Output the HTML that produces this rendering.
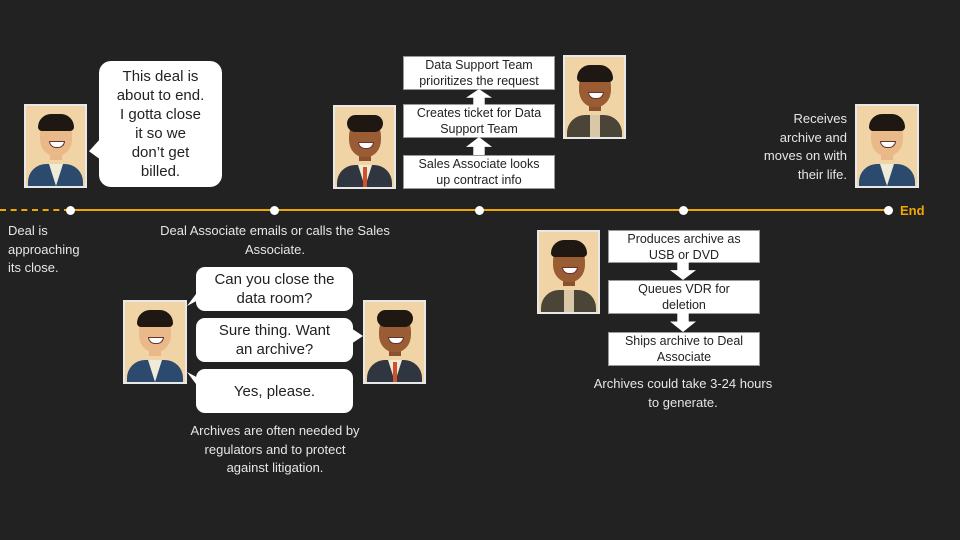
<!DOCTYPE html>
<html><head><meta charset="utf-8"><style>
body{margin:0;background:#222;}
#c{position:relative;width:960px;height:540px;background:#222;overflow:hidden;font-family:"Liberation Sans",sans-serif;color:#eee;}
.a{position:absolute;}
.p{position:absolute;width:60px;height:80px;border:2px solid #e8e8e8;background:#f1d4a6;overflow:hidden;box-sizing:border-box;}
.p .body{position:absolute;left:2px;right:2px;bottom:-14px;height:36px;border-radius:18px 18px 0 0;background:#2b4a6e;}
.p .shirt{position:absolute;left:23px;width:14px;bottom:0;height:22px;background:#f0ead8;clip-path:polygon(0 0,100% 0,50% 100%);}
.p .neck{position:absolute;left:24px;width:12px;top:42px;height:12px;background:#e8b888;}
.p .head{position:absolute;left:14px;top:12px;width:32px;height:38px;border-radius:45%;background:#eab98a;}
.p .hair{position:absolute;left:12px;top:8px;width:36px;height:17px;border-radius:17px 17px 5px 5px;background:#1e1712;}
.p .smile{position:absolute;left:23px;top:35px;width:14px;height:5px;border-radius:0 0 8px 8px;background:#fff;border:1px solid #633;}
.dark .head{background:#9a5c33;}.dark .neck{background:#8a5030;}
.dark .body{background:#2f3640;}
.tie{position:absolute;left:28px;width:4px;bottom:0;height:20px;background:#d0522a;}
.vest .body{background:#4a4536;}.vest .shirt{background:#d8c8a8;clip-path:none;left:25px;width:10px;}
.box{position:absolute;background:#fff;color:#222;border:1px solid #999;box-sizing:border-box;font-size:12.5px;text-align:center;line-height:16px;display:flex;align-items:center;justify-content:center;}
.bub{position:absolute;background:#fff;color:#222;border-radius:12px;font-size:15px;text-align:center;line-height:19px;display:flex;align-items:center;justify-content:center;}
.t{position:absolute;font-size:13px;line-height:18.5px;color:#e6e6e6;}
.dot{position:absolute;width:9px;height:9px;border-radius:50%;background:#fff;top:206px;}
</style></head><body><div id="c">
<div class="a" style="left:0;top:209px;width:70px;height:0;border-top:2px dashed #f0a800;"></div>
<div class="a" style="left:70px;top:209px;width:818px;height:2px;background:#f0a800;"></div>
<div class="dot" style="left:66px"></div><div class="dot" style="left:270px"></div><div class="dot" style="left:475px"></div><div class="dot" style="left:679px"></div><div class="dot" style="left:884px"></div>
<div class="a" style="left:900px;top:203px;font-size:13px;font-weight:bold;color:#f0a800;">End</div>

<div class="p" style="left:24px;top:104px;width:63px;height:84px;"><div class="neck"></div><div class="body"></div><div class="shirt"></div><div class="head"></div><div class="hair"></div><div class="smile"></div></div>
<div class="bub" style="left:99px;top:61px;width:123px;height:126px;">This deal is<br>about to end.<br>I gotta close<br>it so we<br>don’t get<br>billed.</div>
<div class="a" style="left:89px;top:138px;width:12px;height:22px;background:#fff;clip-path:polygon(100% 0,0 60%,100% 100%);"></div>
<div class="t" style="left:8px;top:222px;">Deal is<br>approaching<br>its close.</div>
<div class="t" style="left:140px;top:222px;width:270px;text-align:center;">Deal Associate emails or calls the Sales<br>Associate.</div>

<div class="p dark" style="left:333px;top:105px;width:63px;height:84px;"><div class="neck"></div><div class="body"></div><div class="shirt"></div><div class="tie"></div><div class="head"></div><div class="hair" style="border-radius:17px"></div><div class="smile"></div></div>
<div class="box" style="left:403px;top:56px;width:152px;height:34px;">Data Support Team<br>prioritizes the request</div>
<div class="box" style="left:403px;top:104px;width:152px;height:34px;">Creates ticket for Data<br>Support Team</div>
<div class="box" style="left:403px;top:155px;width:152px;height:34px;">Sales Associate looks<br>up contract info</div>
<div class="a" style="left:466px;top:89px;width:26px;height:16px;background:#fff;clip-path:polygon(50% 0,100% 55%,72% 55%,72% 100%,28% 100%,28% 55%,0 55%);"></div>
<div class="a" style="left:466px;top:137px;width:26px;height:18px;background:#fff;clip-path:polygon(50% 0,100% 55%,72% 55%,72% 100%,28% 100%,28% 55%,0 55%);"></div>
<div class="p dark vest" style="left:563px;top:55px;width:63px;height:84px;"><div class="neck"></div><div class="body"></div><div class="shirt"></div><div class="head"></div><div class="hair"></div><div class="smile"></div></div>

<div class="t" style="left:760px;top:110px;width:87px;text-align:right;">Receives<br>archive and<br>moves on with<br>their life.</div>
<div class="p" style="left:855px;top:104px;width:64px;height:84px;"><div class="neck"></div><div class="body"></div><div class="shirt"></div><div class="head"></div><div class="hair"></div><div class="smile"></div></div>

<div class="p dark vest" style="left:537px;top:230px;width:63px;height:84px;"><div class="neck"></div><div class="body"></div><div class="shirt"></div><div class="head"></div><div class="hair"></div><div class="smile"></div></div>
<div class="box" style="left:608px;top:230px;width:152px;height:33px;">Produces archive as<br>USB or DVD</div>
<div class="box" style="left:608px;top:280px;width:152px;height:34px;">Queues VDR for<br>deletion</div>
<div class="box" style="left:608px;top:332px;width:152px;height:34px;">Ships archive to Deal<br>Associate</div>
<div class="a" style="left:670px;top:262px;width:26px;height:18px;background:#fff;clip-path:polygon(28% 0,72% 0,72% 45%,100% 45%,50% 100%,0 45%,28% 45%);"></div>
<div class="a" style="left:670px;top:313px;width:26px;height:19px;background:#fff;clip-path:polygon(28% 0,72% 0,72% 45%,100% 45%,50% 100%,0 45%,28% 45%);"></div>
<div class="t" style="left:573px;top:375px;width:220px;text-align:center;">Archives could take 3-24 hours<br>to generate.</div>

<div class="p" style="left:123px;top:300px;width:64px;height:84px;"><div class="neck"></div><div class="body"></div><div class="shirt"></div><div class="head"></div><div class="hair"></div><div class="smile"></div></div>
<div class="p dark" style="left:363px;top:300px;width:63px;height:84px;"><div class="neck"></div><div class="body"></div><div class="shirt"></div><div class="tie"></div><div class="head"></div><div class="hair" style="border-radius:17px"></div><div class="smile"></div></div>
<div class="bub" style="left:196px;top:267px;width:157px;height:44px;border-radius:9px;">Can you close the<br>data room?</div>
<div class="a" style="left:187px;top:290px;width:12px;height:16px;background:#fff;clip-path:polygon(100% 0,0 100%,100% 60%);"></div>
<div class="bub" style="left:196px;top:318px;width:157px;height:44px;border-radius:9px;">Sure thing. Want<br>an archive?</div>
<div class="a" style="left:351px;top:328px;width:12px;height:16px;background:#fff;clip-path:polygon(0 0,100% 50%,0 100%);"></div>
<div class="bub" style="left:196px;top:369px;width:157px;height:44px;border-radius:9px;">Yes, please.</div>
<div class="a" style="left:187px;top:372px;width:12px;height:16px;background:#fff;clip-path:polygon(100% 40%,0 0,100% 100%);"></div>
<div class="t" style="left:170px;top:422px;width:210px;text-align:center;">Archives are often needed by<br>regulators and to protect<br>against litigation.</div>
</div></body></html>
